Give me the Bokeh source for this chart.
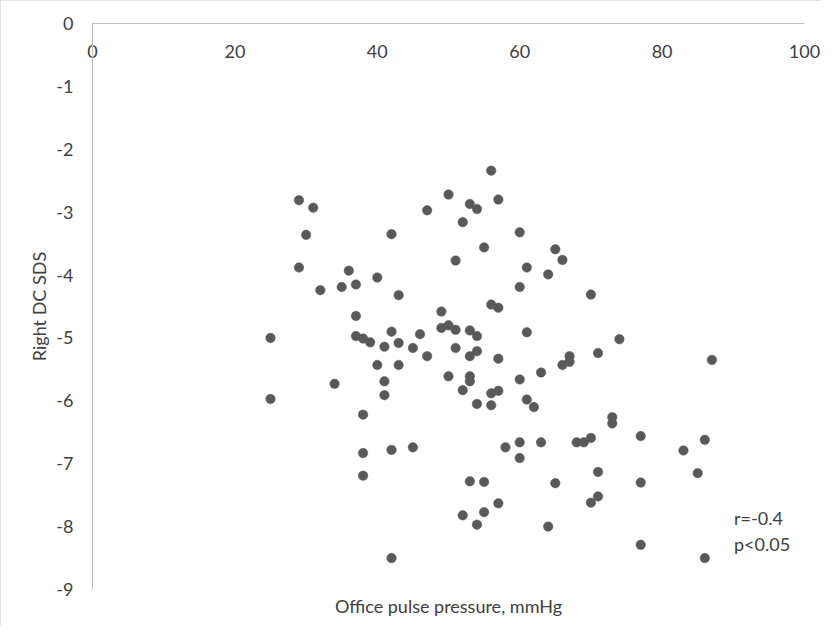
from bokeh.plotting import figure
from bokeh.models import Range1d, FixedTicker, Label, LinearAxis
from bokeh.embed import file_html
from bokeh.resources import INLINE

# Data
pulse_pressure = [
    29, 31, 30, 42, 47, 29, 36, 32, 35, 37, 40, 43,
    56, 50, 53, 54, 57, 52, 60, 55, 65, 51, 66, 61, 64, 60, 70, 56, 57,
    25, 25, 37, 37, 38, 39, 42, 43, 41, 46, 45, 47, 49, 49, 40, 43, 34, 41, 41, 38,
    50, 51, 53, 54, 61, 74, 51, 53, 54, 57, 67, 67, 66, 71, 63, 50, 53, 53, 60,
    52, 56, 57, 54, 56, 61, 62, 73, 73,
    38, 38, 42, 45, 42,
    58, 60, 60, 63, 68, 69, 70, 71, 53, 55, 65, 71, 70, 57, 52, 55, 54, 64,
    87, 77, 86, 83, 85, 77, 77, 86,
]
right_dc_sds = [
    -2.81, -2.93, -3.36, -3.35, -2.97, -3.88, -3.93, -4.24, -4.19, -4.15, -4.04, -4.32,
    -2.34, -2.72, -2.87, -2.95, -2.80, -3.16, -3.32, -3.56, -3.59, -3.77, -3.76, -3.88, -3.99, -4.19, -4.31, -4.47, -4.52,
    -5.00, -5.97, -4.65, -4.97, -5.01, -5.07, -4.90, -5.08, -5.14, -4.94, -5.16, -5.29, -4.58, -4.84, -5.43, -5.43, -5.73, -5.69, -5.91, -6.22,
    -4.80, -4.87, -4.88, -4.97, -4.91, -5.02, -5.16, -5.29, -5.21, -5.33, -5.29, -5.38, -5.43, -5.24, -5.55, -5.61, -5.61, -5.69, -5.66,
    -5.83, -5.88, -5.84, -6.05, -6.07, -5.98, -6.10, -6.26, -6.36,
    -6.83, -7.19, -6.78, -6.74, -8.50,
    -6.74, -6.66, -6.91, -6.66, -6.66, -6.66, -6.59, -7.13, -7.28, -7.29, -7.31, -7.52, -7.62, -7.63, -7.82, -7.77, -7.97, -8.00,
    -5.35, -6.56, -6.62, -6.79, -7.15, -7.30, -8.29, -8.50,
]
x_ticks = [0, 20, 40, 60, 80, 100]
y_ticks = [0, -1, -2, -3, -4, -5, -6, -7, -8, -9]
x_title = "Office pulse pressure, mmHg"
y_title = "Right DC SDS"
stats_lines = ["r=-0.4", "p<0.05"]

FONT = "Lato"
FS = "18px"
TXT = "#404040"
AXIS = "#BFBFBF"

p = figure(
    width=821, height=625,
    output_backend="svg", toolbar_location=None,
    x_range=Range1d(0, 100), y_range=Range1d(-9, 0),
    min_border_left=92, min_border_right=17,
    min_border_top=23, min_border_bottom=36,
    x_axis_location="above", y_axis_location="left",
)
p.outline_line_color = None
p.grid.visible = False
p.background_fill_color = "white"
p.border_fill_color = "white"
p.styles = {"outline": "1px solid #D9D9D9", "outline-offset": "-1px"}

# x axis along y = 0 (top of plot), labels hanging below the line
xa = p.xaxis[0]
xa.ticker = FixedTicker(ticks=x_ticks)
xa.major_label_overrides = {t: str(t) for t in x_ticks}
xa.minor_tick_line_color = None
xa.major_tick_in = 0
xa.major_tick_out = 0
xa.axis_line_color = AXIS
xa.major_label_standoff = -34
xa.major_label_text_font = FONT
xa.major_label_text_font_size = FS
xa.major_label_text_color = TXT

# bottom axis carrying only the x title
xb = LinearAxis(ticker=FixedTicker(ticks=[]), axis_label=x_title)
xb.axis_line_color = None
xb.major_tick_line_color = None
xb.minor_tick_line_color = None
xb.major_label_text_font_size = "0px"
xb.axis_label_standoff = 5
xb.axis_label_text_font = FONT
xb.axis_label_text_font_size = FS
xb.axis_label_text_font_style = "normal"
xb.axis_label_text_color = TXT
p.add_layout(xb, "below")

ya = p.yaxis[0]
ya.ticker = FixedTicker(ticks=y_ticks)
ya.major_label_overrides = {t: str(t) for t in y_ticks}
ya.minor_tick_line_color = None
ya.major_tick_in = 0
ya.major_tick_out = 0
ya.axis_line_color = AXIS
ya.major_label_standoff = 19
ya.major_label_text_font = FONT
ya.major_label_text_font_size = FS
ya.major_label_text_color = TXT
ya.axis_label = y_title
ya.axis_label_standoff = 3
ya.axis_label_text_font = FONT
ya.axis_label_text_font_size = FS
ya.axis_label_text_font_style = "normal"
ya.axis_label_text_color = TXT

p.scatter(pulse_pressure, right_dc_sds, size=9.5, fill_color="#595959",
          line_color="#595959", line_width=0.5)

for i, t in enumerate(stats_lines):
    p.add_layout(Label(x=90.1, y=-7.87 - 0.41 * i, text=t, text_align="left",
                       text_baseline="middle", text_font=FONT,
                       text_font_size=FS, text_color=TXT))

open("out.html", "w").write(file_html(p, INLINE))
